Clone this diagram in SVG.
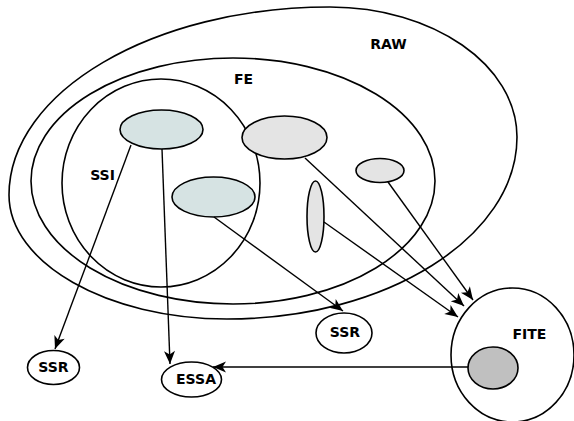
<svg xmlns="http://www.w3.org/2000/svg" width="574" height="421" viewBox="0 0 574 421">
<defs>
<marker id="arr" markerUnits="userSpaceOnUse" markerWidth="16" markerHeight="14" viewBox="-14 -7 16 14" refX="0" refY="0" orient="auto">
<path d="M-13,-5.5 L0,0 L-13,5.5 L-9.5,0 Z" fill="#000"/>
</marker>
</defs>
<style>
.region{fill:none;stroke:#000;stroke-width:1.6}
.teal{fill:#d6e3e3;stroke:#000;stroke-width:1.6}
.gray{fill:#e4e4e4;stroke:#000;stroke-width:1.6}
.dark{fill:#c0c0c0;stroke:#000;stroke-width:1.6}
.node{fill:#fff;stroke:#000;stroke-width:1.6}
.lbl{font-family:"DejaVu Sans",sans-serif;font-weight:bold;font-size:14px;fill:#000;text-anchor:middle}
.edge{fill:none;stroke:#000;stroke-width:1.4;marker-end:url(#arr)}
</style>
<rect width="574" height="421" fill="#fff"/>
<g id="RAW">
<path class="region" d="M330,7 C433,7 517,65 517,137 C517,237 387,319 227,319 C107,319 9,263 9,195 C9,92 153,7 330,7 Z"/>
<text class="lbl" x="388.5" y="49">RAW</text>
</g>
<g id="FE">
<ellipse class="region" cx="233" cy="181" rx="202" ry="123"/>
<text class="lbl" x="243.5" y="84">FE</text>
</g>
<g id="SSI">
<ellipse class="region" cx="161" cy="183" rx="99" ry="104"/>
<text class="lbl" x="102.5" y="180">SSI</text>
</g>
<g id="FITE">
<ellipse class="node" cx="512.5" cy="355" rx="61.5" ry="67"/>
<text class="lbl" x="529.5" y="339">FITE</text>
</g>
<g id="teal1"><ellipse class="teal" cx="161.5" cy="129.5" rx="41.5" ry="19.5"/></g>
<g id="teal2"><ellipse class="teal" cx="213.5" cy="197" rx="41.5" ry="20"/></g>
<g id="gray1"><ellipse class="gray" cx="284.5" cy="137.5" rx="42.5" ry="21.5"/></g>
<g id="gray2"><ellipse class="gray" cx="380" cy="170.5" rx="24" ry="12"/></g>
<g id="gray3"><ellipse class="gray" cx="315.5" cy="216.5" rx="8.5" ry="35.5"/></g>
<g id="fiteInner"><ellipse class="dark" cx="493" cy="368" rx="25" ry="21"/></g>
<g id="SSR1">
<ellipse class="node" cx="344" cy="333" rx="28" ry="20"/>
<text class="lbl" x="345" y="337">SSR</text>
</g>
<g id="SSR2">
<ellipse class="node" cx="53.5" cy="367.5" rx="26" ry="17"/>
<text class="lbl" x="53.5" y="372">SSR</text>
</g>
<g id="ESSA">
<ellipse class="node" cx="191.5" cy="379.5" rx="30" ry="17.5"/>
<text class="lbl" x="196" y="384">ESSA</text>
</g>
<g id="connectors">
<line class="edge" x1="131" y1="145" x2="55" y2="349"/>
<line class="edge" x1="162" y1="149" x2="170" y2="364"/>
<line class="edge" x1="214" y1="217" x2="343" y2="311"/>
<line class="edge" x1="305" y1="158" x2="464" y2="306"/>
<line class="edge" x1="388" y1="182" x2="473" y2="300"/>
<line class="edge" x1="324" y1="222" x2="458" y2="317"/>
<line class="edge" x1="468" y1="367" x2="213" y2="367"/>
</g>
</svg>
